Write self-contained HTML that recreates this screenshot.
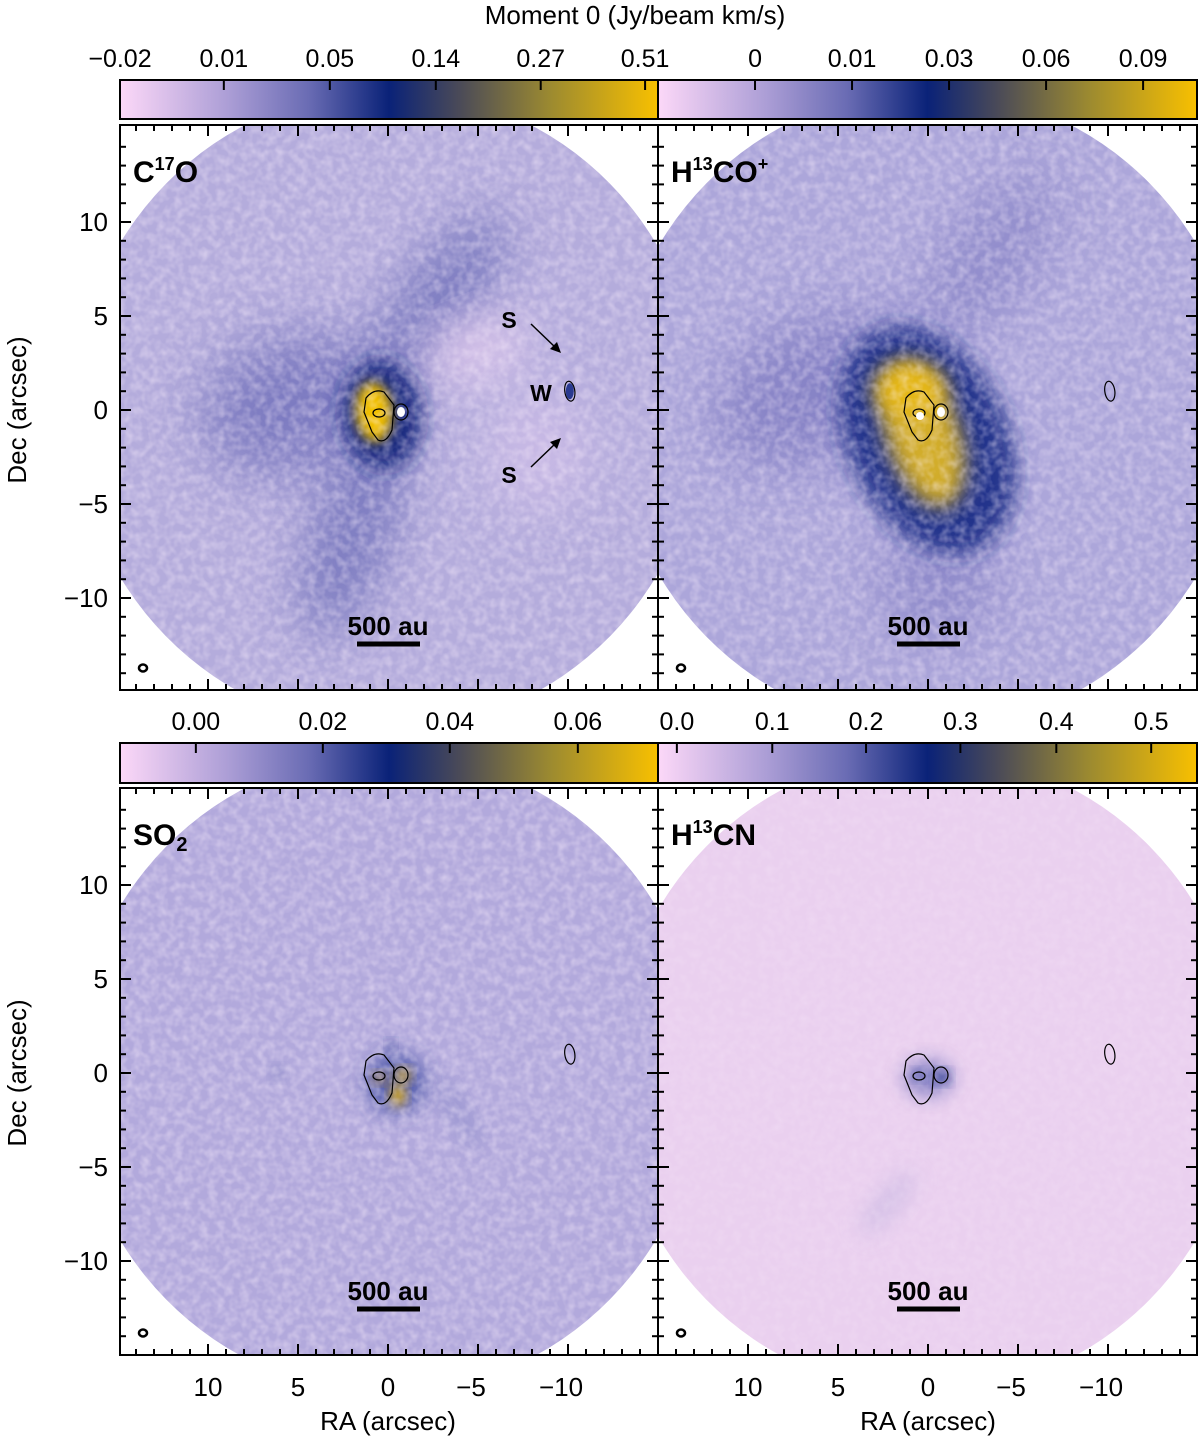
<!DOCTYPE html>
<html><head><meta charset="utf-8"><style>
html,body{margin:0;padding:0;background:#fff}
svg{display:block;font-family:"Liberation Sans",sans-serif}
</style></head><body>
<svg id="fig" width="1200" height="1440" viewBox="0 0 1200 1440" xmlns="http://www.w3.org/2000/svg">
<defs>
<filter id="b6" x="-50%" y="-50%" width="200%" height="200%"><feGaussianBlur stdDeviation="6"/></filter>
<filter id="b10" x="-50%" y="-50%" width="200%" height="200%"><feGaussianBlur stdDeviation="10"/></filter>
<filter id="b18" x="-50%" y="-50%" width="200%" height="200%"><feGaussianBlur stdDeviation="24"/></filter>
<filter id="b30" x="-50%" y="-50%" width="200%" height="200%"><feGaussianBlur stdDeviation="28"/></filter>
<filter id="noise" x="0" y="0" width="100%" height="100%">
<feTurbulence type="fractalNoise" baseFrequency="0.12" numOctaves="2" seed="3"/>
<feColorMatrix type="matrix" values="0 0 0 0 1  0 0 0 0 0.9  0 0 0 0 1  0 0 0 -1.6 1.05"/>
</filter>
<linearGradient id="cbg" x1="0" x2="1" y1="0" y2="0">
<stop offset="0" stop-color="#fcd8f8"/><stop offset="0.2" stop-color="#ac9ed6"/>
<stop offset="0.35" stop-color="#6a6cb4"/><stop offset="0.5" stop-color="#0a2278"/>
<stop offset="0.63" stop-color="#4a4a58"/><stop offset="0.8" stop-color="#9c8a30"/>
<stop offset="1" stop-color="#f8c000"/>
</linearGradient>
</defs>
<g id="root"></g>
</svg>
<script>
const panelNames=['C17O','H13CO+','SO2','H13CN'];
const cbTicksTL=['-0.02','0.01','0.05','0.14','0.27','0.51'];
const cbPosTL=[0,0.193,0.39,0.587,0.782,0.976];
const cbTicksTR=['0','0.01','0.03','0.06','0.09'];
const cbPosTR=[0.18,0.36,0.54,0.72,0.90];
const cbTicksBL=['0.00','0.02','0.04','0.06'];
const cbPosBL=[0.141,0.377,0.613,0.851];
const cbTicksBR=['0.0','0.1','0.2','0.3','0.4','0.5'];
const cbPosBR=[0.035,0.212,0.386,0.561,0.739,0.915];
const raTicks=[10,5,0,-5,-10];
const decTicks=[10,5,0,-5,-10];

const NS='http://www.w3.org/2000/svg';
const root=document.getElementById('root');
function el(tag,attrs,parent){const e=document.createElementNS(NS,tag);for(const k in attrs)e.setAttribute(k,attrs[k]);(parent||root).appendChild(e);return e;}
const SX=18, SY=18.8;
const panels=[
 {x0:120,x1:658,y0:125,y1:690,cx:388,cy:410,base:'#b4acdc'},
 {x0:658,x1:1197,y0:125,y1:690,cx:928,cy:410,base:'#aca6da'},
 {x0:120,x1:658,y0:788,y1:1355,cx:388,cy:1073,base:'#b2a9dc'},
 {x0:658,x1:1197,y0:788,y1:1355,cx:928,cy:1073,base:'#ead0ef'}
];
function px(p,ra){return p.cx-ra*SX;}
function py(p,dec){return p.cy-dec*SY;}

panels.forEach((p,i)=>{
 const g=el('g',{});
 
 
 const cid='clip'+i;
 const cp=el('clipPath',{id:cid},g);
 el('rect',{x:p.x0,y:p.y0,width:p.x1-p.x0,height:p.y1-p.y0},cp);
 const cc=el('clipPath',{id:'cc'+i},g);
 el('ellipse',{cx:p.cx,cy:p.cy,rx:314,ry:320},cc);
 const ig=el('g',{'clip-path':'url(#'+cid+')'},g);
 const img=el('g',{'clip-path':'url(#cc'+i+')'},ig);
 
 
 el('rect',{x:p.x0,y:p.y0,width:p.x1-p.x0,height:p.y1-p.y0,fill:p.base},img);
 const blobs=[];
 const X=p.cx,Y=p.cy;
 if(i===0){
  blobs.push(['#6c6cb8',0.75,X-95,Y-5,95,70,-15,'b30']);
  blobs.push(['#6064b2',0.65,X+45,Y-100,40,115,35,'b18']);
  blobs.push(['#6064b2',0.65,X-35,Y+120,42,115,18,'b18']);
  blobs.push(['#e4cdef',0.9,X+85,Y-60,55,28,-20,'b18']);
  blobs.push(['#d8c4ec',0.6,X+150,Y+40,50,60,0,'b30']);
  blobs.push(['#15287e',1,X-6,Y+5,40,55,-5,'b10']);
  blobs.push(['#f2c000',1,X-14,Y+2,18,30,-5,'b6']);
 } else if(i===1){
  blobs.push(['#7c78c0',0.75,X-110,Y-20,110,70,-25,'b30']);
  blobs.push(['#7c78c0',0.6,X+60,Y-150,40,100,35,'b30']);
  blobs.push(['#7c78c0',0.6,X+10,Y+170,60,60,0,'b30']);
  blobs.push(['#1e2f88',0.95,X,Y+30,80,120,-25,'b10']);
  blobs.push(['#dcb428',0.95,X-5,Y+25,36,75,-18,'b10']);
  blobs.push(['#e6b818',0.95,X-18,Y-20,36,28,0,'b10']);
 } else if(i===2){
  blobs.push(['#2a3a90',0.9,X+3,Y-27,4,5,0,'b6']);
  blobs.push(['#3a48a0',0.8,X+8,Y+10,30,30,0,'b10']);
  blobs.push(['#f0b800',1,X+15,Y+2,7,6,0,'b6']);
  blobs.push(['#f0b800',1,X+10,Y+22,7,10,0,'b6']);
  blobs.push(['#c09020',1,X-8,Y+5,6,5,0,'b6']);
  blobs.push(['#6c70b8',0.7,X-110,Y,6,6,0,'b6']);
  blobs.push(['#8888c8',0.6,X+70,Y+40,10,40,-30,'b10']);
 } else {
  blobs.push(['#7a78c0',0.9,X,Y+5,24,18,0,'b10']);
  blobs.push(['#1a2f88',1,X+14,Y+4,7,6,0,'b6']);
  blobs.push(['#3a48a0',0.8,X-10,Y+2,6,5,0,'b6']);
  blobs.push(['#c8b8e2',0.6,X-40,Y+130,14,40,40,'b10']);
 }
 blobs.forEach(b=>{
  el('ellipse',{cx:b[2],cy:b[3],rx:b[4],ry:b[5],fill:b[0],opacity:b[1],filter:'url(#'+b[7]+')',transform:'rotate('+b[6]+' '+b[2]+' '+b[3]+')'},img);
 });
 el('rect',{x:p.x0,y:p.y0,width:p.x1-p.x0,height:p.y1-p.y0,filter:'url(#noise)',opacity:i===3?0.2:0.45},img);
 const cg=el('g',{fill:'none',stroke:'#000','stroke-width':1.2},ig);
 
 
 el('path',{d:`M${X-22},${Y-12} Q${X-14},${Y-22} ${X-4},${Y-18} L${X+6},${Y-5} L${X+4},${Y+20} Q${X-2},${Y+34} ${X-10},${Y+30} L${X-16},${Y+22} L${X-24},${Y+2} Z`},cg);
 el('ellipse',{cx:X-9,cy:Y+3,rx:6,ry:4},cg);
 el('ellipse',{cx:X+13,cy:Y+2,rx:7,ry:8},cg);
 if(i<2) el('ellipse',{cx:X+13,cy:Y+2,rx:4,ry:5,fill:'#fff',stroke:'none'},cg);
 if(i===1) el('ellipse',{cx:X-8,cy:Y+6,rx:4,ry:4,fill:'#fff',stroke:'none'},cg);
 if(i===0) el('ellipse',{cx:px(p,-10.1),cy:py(p,1),rx:4,ry:8,fill:'#2a3a90',stroke:'none'},cg);
 el('ellipse',{cx:px(p,-10.1),cy:py(p,1),rx:5,ry:10,transform:`rotate(-8 ${px(p,-10.1)} ${py(p,1)})`},cg);
 const bm=el('ellipse',{cx:p.x0+23,cy:p.y1-22,rx:4,ry:3.5,fill:'none',stroke:'#000','stroke-width':2.5},g);
 
 
 const sb=el('g',{},g);
 
 
 el('line',{x1:X-31,x2:X+32,y1:p.y1-46,y2:p.y1-46,stroke:'#000','stroke-width':5},sb);
 const st=el('text',{x:X,y:p.y1-55,'text-anchor':'middle','font-size':26,'font-weight':'bold'},sb);
 st.textContent='500 au';
 const lab=el('text',{x:p.x0+13,y:p.y0+57,'font-size':30,'font-weight':'bold'},g);
 
 
 const defs={0:[['C',''],['17','s'],['O','d']],1:[['H',''],['13','s'],['CO','d'],['+','s']],2:[['SO',''],['2','b']],3:[['H',''],['13','s'],['CN','d']]}[i];
 defs.forEach(d=>{const t=el('tspan',{},lab);t.textContent=d[0];
  if(d[1]==='s'){t.setAttribute('font-size',18);t.setAttribute('dy',-12);}
  else if(d[1]==='b'){t.setAttribute('font-size',20);t.setAttribute('dy',6);}
  else if(d[1]==='d'){t.setAttribute('dy',12);} });
 const fr=el('rect',{x:p.x0,y:p.y0,width:p.x1-p.x0,height:p.y1-p.y0,fill:'none',stroke:'#000','stroke-width':2},g);
 
 
 const tg=el('g',{stroke:'#000','stroke-width':2},g);
 for(let a=-14;a<=14;a++){
  const TX=px(p,a),TY=p.cy-a*SY; const L=(a%5===0)?11:6;
  el('line',{x1:TX,x2:TX,y1:p.y0,y2:p.y0+L},tg);el('line',{x1:TX,x2:TX,y1:p.y1,y2:p.y1-L},tg);
  if(TY>p.y0+1&&TY<p.y1-1){el('line',{x1:p.x0,x2:p.x0+L,y1:TY,y2:TY},tg);el('line',{x1:p.x1,x2:p.x1-L,y1:TY,y2:TY},tg);}
 }
 if(i%2===0){decTicks.forEach(d=>{const t=el('text',{x:p.x0-12,y:py(p,d)+9,'text-anchor':'end','font-size':26},g);t.textContent=d<0?'\u2212'+(-d):d;
  });}
 if(i>=2){raTicks.forEach(r=>{const t=el('text',{x:px(p,r)+(r<0?-7:0),y:p.y1+41,'text-anchor':'middle','font-size':26},g);t.textContent=r<0?'\u2212'+(-r):r;
  });}
});

(function(){
 const g=el('g',{});
 
 
 [['S',509,328],['W',541,401],['S',509,483]].forEach(a=>{const t=el('text',{x:a[1],y:a[2],'text-anchor':'middle','font-size':23,'font-weight':'bold'},g);t.textContent=a[0];});
 el('line',{x1:531,y1:324,x2:556,y2:348,stroke:'#000','stroke-width':1.5},g);
 el('path',{d:'M561,353 L550,349 L557,342 Z'},g);
 el('line',{x1:531,y1:467,x2:556,y2:443,stroke:'#000','stroke-width':1.5},g);
 el('path',{d:'M561,438 L550,442 L557,449 Z'},g);
})();

function colorbar(x0,x1,y0,y1,labels,pos,name){
 const g=el('g',{});
 
 
 el('rect',{x:x0,y:y0,width:x1-x0,height:y1-y0,fill:'url(#cbg)'},g);
 el('rect',{x:x0,y:y0,width:x1-x0,height:y1-y0,fill:'none',stroke:'#000','stroke-width':2},g);
 labels.forEach((l,k)=>{const TX=x0+pos[k]*(x1-x0);
  if(pos[k]>0.01) el('line',{x1:TX,x2:TX,y1:y0,y2:y0+10,stroke:'#000','stroke-width':2},g);
  const t=el('text',{x:TX,y:y0-13,'text-anchor':'middle','font-size':25},g);
  t.textContent=l.replace('-','\u2212');});
}
colorbar(120,658,80,119,cbTicksTL,cbPosTL,'colorbar-c17o');
colorbar(658,1197,80,119,cbTicksTR,cbPosTR,'colorbar-h13coplus');
colorbar(120,658,743,783,cbTicksBL,cbPosBL,'colorbar-so2');
colorbar(658,1197,743,783,cbTicksBR,cbPosBR,'colorbar-h13cn');

const t1=el('text',{x:635,y:24,'text-anchor':'middle','font-size':26});t1.textContent='Moment 0 (Jy/beam km/s)';

[410,1073].forEach(y=>{const t=el('text',{x:26,y:y,'text-anchor':'middle','font-size':26,transform:`rotate(-90 26 ${y})`});t.textContent='Dec (arcsec)';
 });
[388,928].forEach(x=>{const t=el('text',{x:x,y:1430,'text-anchor':'middle','font-size':26});t.textContent='RA (arcsec)';
 });
</script>
</body></html>
